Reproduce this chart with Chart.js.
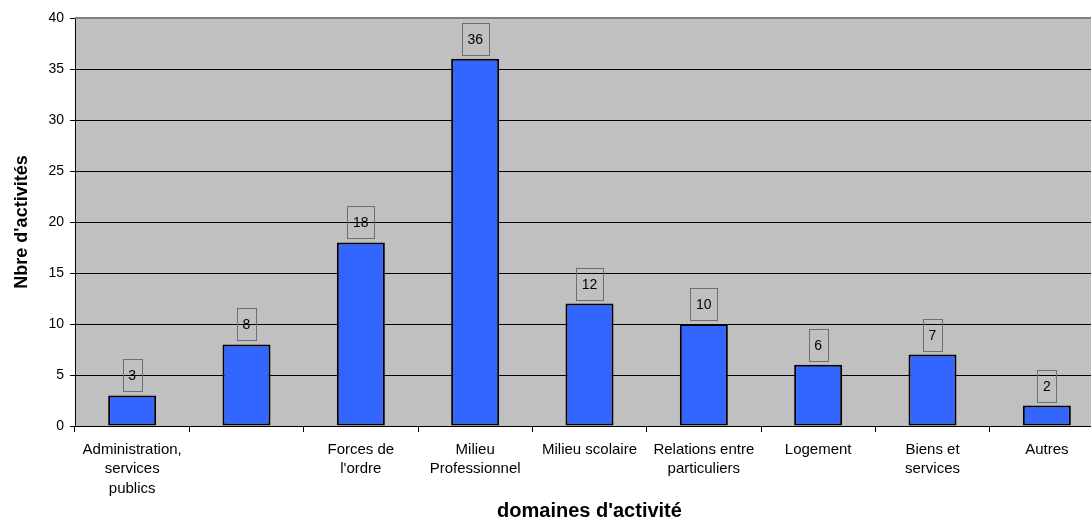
<!DOCTYPE html>
<html lang="fr">
<head>
    <meta charset="UTF-8" />
    <title>Domaines d'activité</title>
    <script src="https://cdn.jsdelivr.net/npm/chart.js"></script>
    <style>
        html, body { margin: 0; padding: 0; background: #fff; overflow: hidden; }
        #wrap { width: 1104px; height: 529px; }
    </style>
</head>
<body>
<div id="wrap">
    <canvas id="graphique" width="1104" height="529"></canvas>
</div>

<script>
    // données
    const domaines = [
        ["Administration,", "services", "publics"],
        "",
        ["Forces de", "l'ordre"],
        ["Milieu", "Professionnel"],
        "Milieu scolaire",
        ["Relations entre", "particuliers"],
        "Logement",
        ["Biens et", "services"],
        "Autres"
    ];
    const nbActivites = [3, 8, 18, 36, 12, 10, 6, 7, 2];
    const graduations = [0, 5, 10, 15, 20, 25, 30, 35, 40];

    const police = "'Liberation Sans', Arial, sans-serif";

    // fond gris de la zone de tracé + bordure haute
    const fondZone = {
        id: 'fondZone',
        beforeDraw(chart) {
            const { ctx, chartArea: a } = chart;
            ctx.save();
            ctx.fillStyle = '#c0c0c0';
            ctx.fillRect(a.left, a.top, a.right - a.left, a.bottom - a.top);
            ctx.restore();
        },
        afterDatasetsDraw(chart) {
            const { ctx, chartArea: a } = chart;
            ctx.save();
            ctx.strokeStyle = '#808080';
            ctx.lineWidth = 2;
            ctx.beginPath();
            ctx.moveTo(a.left, a.top);
            ctx.lineTo(a.right, a.top);
            ctx.stroke();
            ctx.restore();
        }
    };

    // étiquettes encadrées au-dessus des barres
    const etiquettes = {
        id: 'etiquettes',
        afterDatasetsDraw(chart) {
            const { ctx } = chart;
            const meta = chart.getDatasetMeta(0);
            ctx.save();
            ctx.font = "14px " + police;
            ctx.textAlign = 'center';
            ctx.textBaseline = 'middle';
            meta.data.forEach((bar, i) => {
                const txt = String(nbActivites[i]);
                const w = Math.round(ctx.measureText(txt).width + 11);
                const h = 32;
                const x = Math.round(bar.x - w / 2) + 0.5;
                const y = Math.round(bar.y - 4 - h) + 0.5;
                ctx.strokeStyle = '#6e6e6e';
                ctx.lineWidth = 1;
                ctx.strokeRect(x, y, w, h);
                ctx.fillStyle = '#000';
                ctx.fillText(txt, bar.x, y + h / 2 + 1);
            });
            ctx.restore();
        }
    };

    new Chart(document.getElementById('graphique'), {
        type: 'bar',
        data: {
            labels: domaines,
            datasets: [{
                data: nbActivites,
                backgroundColor: '#3366ff',
                borderColor: '#000',
                borderWidth: 2,
                borderSkipped: false,
                barPercentage: 0.42,
                categoryPercentage: 1
            }]
        },
        options: {
            responsive: false,
            animation: false,
            layout: { padding: { left: 0, right: 0, top: 18, bottom: 0 } },
            plugins: {
                legend: { display: false },
                tooltip: { enabled: false }
            },
            scales: {
                x: {
                    afterFit(scale) { scale.height = 103; },
                    grid: {
                        offset: true,
                        drawOnChartArea: false,
                        color: '#000',
                        tickLength: 6
                    },
                    border: { color: '#000', width: 1 },
                    ticks: {
                        color: '#000',
                        padding: 8,
                        maxRotation: 0,
                        autoSkip: false,
                        font: { family: police, size: 15, lineHeight: 1.3 }
                    },
                    title: {
                        display: true,
                        text: "domaines d'activité",
                        color: '#000',
                        padding: { bottom: 6 },
                        font: { family: police, size: 20, weight: 'bold' }
                    }
                },
                y: {
                    min: 0,
                    max: 40,
                    afterFit(scale) { scale.width = 75; },
                    afterBuildTicks(scale) {
                        scale.ticks = graduations.map(v => ({ value: v }));
                    },
                    grid: {
                        color: '#000',
                        tickLength: 5
                    },
                    border: { color: '#000', width: 1 },
                    ticks: {
                        color: '#000',
                        padding: 6,
                        font: { family: police, size: 14 }
                    },
                    title: {
                        display: true,
                        text: "Nbre d'activités",
                        color: '#000',
                        padding: { top: 11 },
                        font: { family: police, size: 18, weight: 'bold' }
                    }
                }
            }
        },
        plugins: [fondZone, etiquettes]
    });
</script>
</body>
</html>
